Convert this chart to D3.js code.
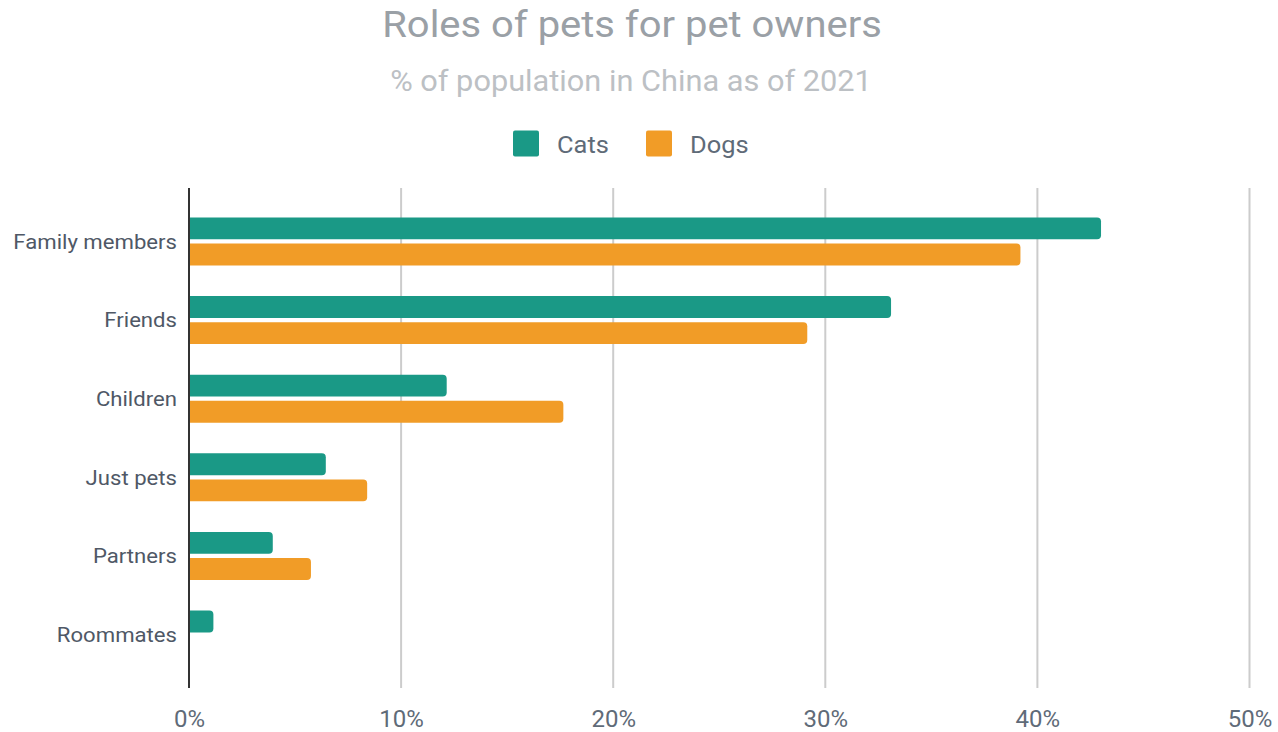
<!DOCTYPE html>
<html>
<head>
<meta charset="utf-8">
<script src="https://cdn.jsdelivr.net/npm/d3@7"></script>
<style>
  html, body { margin: 0; padding: 0; background: #ffffff; }
  svg { display: block; font-family: Roboto, "Noto Sans", sans-serif; }
</style>
</head>
<body>
<svg id="chart" width="1278" height="732"></svg>
<script>
// Roles of pets, share of pet owners in China (2021)
const categories = ["Family members", "Friends", "Children", "Just pets", "Partners", "Roommates"];
const seriesNames = ["Cats", "Dogs"];
const catsValues = [43.0, 33.1, 12.15, 6.45, 3.95, 1.15];
const dogsValues = [39.2, 29.15, 17.65, 8.4, 5.75, 0];
const tickValues = [0, 10, 20, 30, 40, 50];
const tickLabels = ["0%", "10%", "20%", "30%", "40%", "50%"];

const colors = { Cats: "#1a9986", Dogs: "#f19c27" };

const svg = d3.select("#chart");

const margin = { left: 189, right: 1249.5, top: 188, bottom: 688 };

const x = d3.scaleLinear().domain([0, 50]).range([margin.left, margin.right]);
const y = d3.scaleBand().domain(categories).range([margin.top, margin.bottom])
  .paddingInner(0).paddingOuter(0.18);
const sub = d3.scaleBand().domain(seriesNames).range([-24, 24]).paddingInner(0.16);

// Text helper: places a label and widens it slightly (the chart uses a wide sans face)
function wideText(g, tx, ty, str, size, color, sx, anchor) {
  return g.append("text")
    .attr("transform", `translate(${tx},${ty}) scale(${sx},1)`)
    .attr("text-anchor", anchor || "start")
    .attr("font-size", size).attr("fill", color).text(str);
}

// Title block
wideText(svg, 632, 37, "Roles of pets for pet owners", 37, "#9aa0a6", 1.08, "middle");
wideText(svg, 631, 91, "% of population in China as of 2021", 29, "#bcc0c4", 1.06, "middle");

// Legend
const legendItems = [
  { name: "Cats", sx: 513, tx: 557 },
  { name: "Dogs", sx: 646, tx: 690 }
];
const lg = svg.append("g");
legendItems.forEach(d => {
  lg.append("rect").attr("x", d.sx).attr("y", 130.5).attr("width", 26).attr("height", 26)
    .attr("rx", 2).attr("fill", colors[d.name]);
  wideText(lg, d.tx, 153, d.name, 24, "#5f6b78", 1.06);
});

// Vertical gridlines
svg.append("g").selectAll("line").data(tickValues.filter(v => v > 0)).join("line")
  .attr("x1", d => x(d)).attr("x2", d => x(d))
  .attr("y1", margin.top).attr("y2", margin.bottom)
  .attr("stroke", "#cccccc").attr("stroke-width", 2);

// X axis tick labels
const xAxis = d3.axisBottom(x).tickValues(tickValues)
  .tickFormat((d, i) => tickLabels[i]).tickSize(0).tickPadding(0);
const gx = svg.append("g").attr("transform", `translate(0, ${margin.bottom})`).call(xAxis);
gx.select(".domain").remove();
gx.selectAll("text").attr("font-size", 24).attr("fill", "#5f6b78")
  .attr("font-family", "Roboto, sans-serif").attr("dy", null).attr("y", 39);

// Bars with rounded right ends
function barPath(x0, x1, y0, h, r) {
  const w = x1 - x0;
  r = Math.min(r, w, h / 2);
  return `M${x0},${y0}H${x1 - r}Q${x1},${y0} ${x1},${y0 + r}V${y0 + h - r}Q${x1},${y0 + h} ${x1 - r},${y0 + h}H${x0}Z`;
}

const rows = categories.map((c, i) => ({ cat: c, Cats: catsValues[i], Dogs: dogsValues[i] }));
const bars = [];
rows.forEach(r => seriesNames.forEach(s => { if (r[s] > 0) bars.push({ cat: r.cat, series: s, value: r[s] }); }));

svg.append("g").selectAll("path").data(bars).join("path")
  .attr("d", d => {
    const cy = y(d.cat) + y.bandwidth() / 2;
    return barPath(x(0), x(d.value), cy + sub(d.series), sub.bandwidth(), 4);
  })
  .attr("fill", d => colors[d.series]);

// Category axis
const yAxis = d3.axisLeft(y).tickSize(0).tickPadding(0);
const gy = svg.append("g").attr("transform", `translate(${x(0)}, 0)`).call(yAxis);
gy.select(".domain").remove();
gy.selectAll(".tick text")
  .attr("x", null).attr("dy", "0.36em")
  .attr("transform", "translate(-12,0) scale(1.08,1)")
  .attr("font-size", 20.5).attr("fill", "#4f5866")
  .attr("font-family", "Roboto, sans-serif");

svg.append("line").attr("x1", x(0)).attr("x2", x(0))
  .attr("y1", margin.top).attr("y2", margin.bottom)
  .attr("stroke", "#333333").attr("stroke-width", 2);
</script>
</body>
</html>
